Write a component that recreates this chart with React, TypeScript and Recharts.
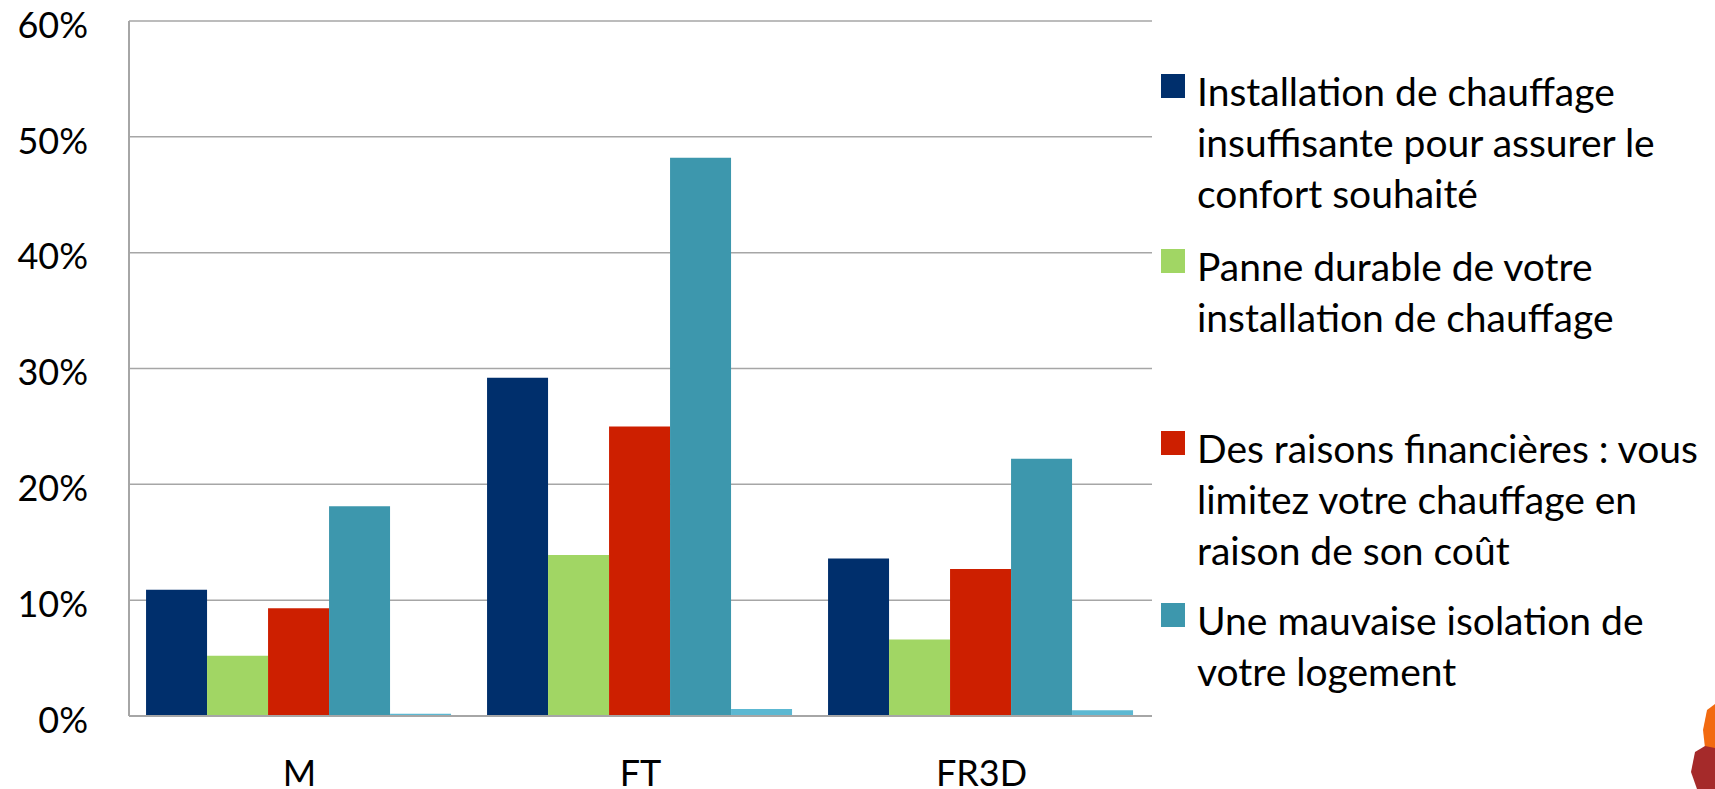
import { Bar, BarChart, CartesianGrid, Legend, XAxis, YAxis } from 'recharts';

const categories = ['M', 'FT', 'FR3D'];
const insuffisante = [10.9, 29.2, 13.6];
const panne = [5.2, 13.9, 6.6];
const financieres = [9.3, 25.0, 12.7];
const isolation = [18.1, 48.2, 22.2];
const autre = [0.2, 0.6, 0.5];
const yTicks = [0, 10, 20, 30, 40, 50, 60];

const seriesNames = [
    'Installation de chauffage insuffisante pour assurer le confort souhaité',
    'Panne durable de votre installation de chauffage',
    'Des raisons financières : vous limitez votre chauffage en raison de son coût',
    'Une mauvaise isolation de votre logement',
    'Autre',
];
const legendLines = [
    ['Installation de chauffage', 'insuffisante pour assurer le', 'confort souhaité'],
    ['Panne durable de votre', 'installation de chauffage'],
    ['Des raisons financières : vous', 'limitez votre chauffage en', 'raison de son coût'],
    ['Une mauvaise isolation de', 'votre logement'],
];
const colors = ['#002F6C', '#A1D664', '#CD1F00', '#3D97AD', '#5CB8D2'];

const data = categories.map((name, i) => ({
    name,
    s0: insuffisante[i],
    s1: panne[i],
    s2: financieres[i],
    s3: isolation[i],
    s4: autre[i],
}));

const FONT = 'Lato, sans-serif';
const legendTops = [66, 241, 423, 595];

const LegendBox = ({ payload }: any) => {
    const items = (payload || [])
        .map((entry: any) => ({ entry, idx: seriesNames.indexOf(entry.value) }))
        .filter((it: any) => it.idx >= 0 && it.idx < legendLines.length);
    return (
        <div style={{ position: 'relative', width: '100%', height: '100%' }}>
            {items.map(({ idx }: any) => (
                <div key={idx} style={{ position: 'absolute', left: 0, top: legendTops[idx] }}>
                    <span style={{ position: 'absolute', left: 1, top: 8, width: 24, height: 24, background: colors[idx] }} />
                    <div style={{ marginLeft: 37, fontFamily: FONT, fontSize: 39, lineHeight: '51px', color: '#000', whiteSpace: 'nowrap' }}>
                        {legendLines[idx].map((l) => <div key={l}>{l}</div>)}
                    </div>
                </div>
            ))}
        </div>
    );
};

export default function App() {
    return (
        <div style={{ position: 'absolute', left: 0, top: 0, width: 1715, height: 789, background: '#fff', overflow: 'hidden' }}>
            <BarChart
                width={1715}
                height={789}
                data={data}
                margin={{ top: 21, right: 563, bottom: 43, left: 0 }}
                barCategoryGap="5%"
                barGap={0}
            >
                <CartesianGrid vertical={false} stroke="#a6a6a6" strokeWidth={1.5} />
                <XAxis
                    dataKey="name"
                    height={30}
                    axisLine={{ stroke: '#a6a6a6', strokeWidth: 2 }}
                    tickLine={false}
                    tickSize={0}
                    tickMargin={44}
                    tick={{ fontFamily: FONT, fontSize: 36, fill: '#000' }}
                />
                <YAxis
                    width={129}
                    domain={[0, 60]}
                    ticks={yTicks}
                    tickFormatter={(v) => `${v}%`}
                    axisLine={{ stroke: '#a6a6a6', strokeWidth: 2 }}
                    tickLine={false}
                    tickSize={0}
                    tickMargin={41}
                    tick={{ fontFamily: FONT, fontSize: 36, fill: '#000', dy: 4 }}
                />
                <Legend
                    layout="vertical"
                    align="center"
                    verticalAlign="middle"
                    wrapperStyle={{ left: 1160, top: 0, width: 555, height: 789 }}
                    content={<LegendBox />}
                />
                <Bar dataKey="s0" name={seriesNames[0]} fill={colors[0]} isAnimationActive={false} />
                <Bar dataKey="s1" name={seriesNames[1]} fill={colors[1]} isAnimationActive={false} />
                <Bar dataKey="s2" name={seriesNames[2]} fill={colors[2]} isAnimationActive={false} />
                <Bar dataKey="s3" name={seriesNames[3]} fill={colors[3]} isAnimationActive={false} />
                <Bar dataKey="s4" name={seriesNames[4]} fill={colors[4]} legendType="none" isAnimationActive={false} />
            </BarChart>
            <svg style={{ position: 'absolute', left: 1685, top: 700, width: 30, height: 89 }}>
                <polygon points="22,10 30,4 30,52 20,48 18,30" fill="#F26A10" />
                <polygon points="10,52 20,46 30,48 30,89 12,89 6,72" fill="#A52A2A" />
            </svg>
        </div>
    );
}
